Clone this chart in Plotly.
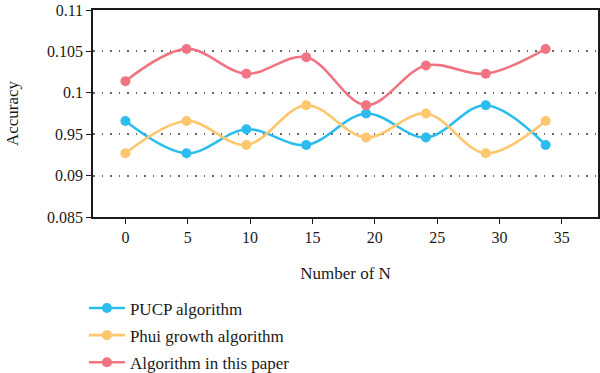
import plotly.graph_objects as go

n_values = [0, 4.9, 9.7, 14.5, 19.3, 24.1, 28.9, 33.7]
pucp = [0.0966, 0.0927, 0.0956, 0.0937, 0.0975, 0.0946, 0.0985, 0.0937]
phui = [0.0927, 0.0966, 0.0937, 0.0985, 0.0946, 0.0975, 0.0927, 0.0966]
paper = [0.1014, 0.1053, 0.1023, 0.1043, 0.0985, 0.1033, 0.1023, 0.1053]

series_names = ["PUCP algorithm", "Phui growth algorithm", "Algorithm in this paper"]
colors = ["#2CBDEE", "#FDC76E", "#F07482"]

y_tickvals = [0.085, 0.09, 0.095, 0.1, 0.105, 0.11]
y_ticktext = ["0.085", "0.09", "0.95", "0.1", "0.105", "0.11"]
x_tickvals = [0, 5, 10, 15, 20, 25, 30, 35]

font_family = "Liberation Serif"

fig = go.Figure()
for i, (name, vals, col) in enumerate(zip(series_names, [pucp, phui, paper], colors)):
    fig.add_trace(go.Scatter(
        x=n_values, y=vals, name=name, mode="lines+markers",
        line=dict(color=col, width=2.6, shape="spline", smoothing=1.0),
        marker=dict(color=col, size=10),
        legendgroup=f"g{i}",
    ))

fig.update_layout(
    width=600, height=373,
    margin=dict(l=93, r=2, t=10, b=156, autoexpand=False),
    paper_bgcolor="white", plot_bgcolor="white",
    font=dict(family=font_family, size=16, color="#1a1a1a"),
    showlegend=True,
    legend=dict(
        x=-0.018, y=-0.355, xanchor="left", yanchor="top",
        orientation="v", traceorder="grouped", tracegroupgap=2,
        itemwidth=36,
        font=dict(family=font_family, size=17, color="#1a1a1a"),
        bgcolor="rgba(0,0,0,0)",
    ),
)

fig.update_xaxes(
    range=[-2.6, 37.9], tickvals=x_tickvals, ticks="outside", ticklen=5,
    tickcolor="#1a1a1a", showline=True, linecolor="#1a1a1a", linewidth=1.5, mirror=True,
    showgrid=False, zeroline=False,
    tickfont=dict(family=font_family, size=16),
    title=dict(text="Number of N", font=dict(family=font_family, size=17), standoff=22),
)
fig.update_yaxes(
    range=[0.085, 0.11], tickvals=y_tickvals, ticktext=y_ticktext, ticks="outside",
    ticklen=5, tickcolor="#1a1a1a", showline=True, linecolor="#1a1a1a", linewidth=1.5,
    mirror=True, showgrid=True, gridcolor="#666", griddash="1.5px,7px", gridwidth=1.5,
    zeroline=False,
    tickfont=dict(family=font_family, size=16),
    title=dict(text="Accuracy", font=dict(family=font_family, size=17), standoff=24),
)

fig.write_html("out.html", config={"displayModeBar": False},
               post_script="document.body.style.margin='0';")
